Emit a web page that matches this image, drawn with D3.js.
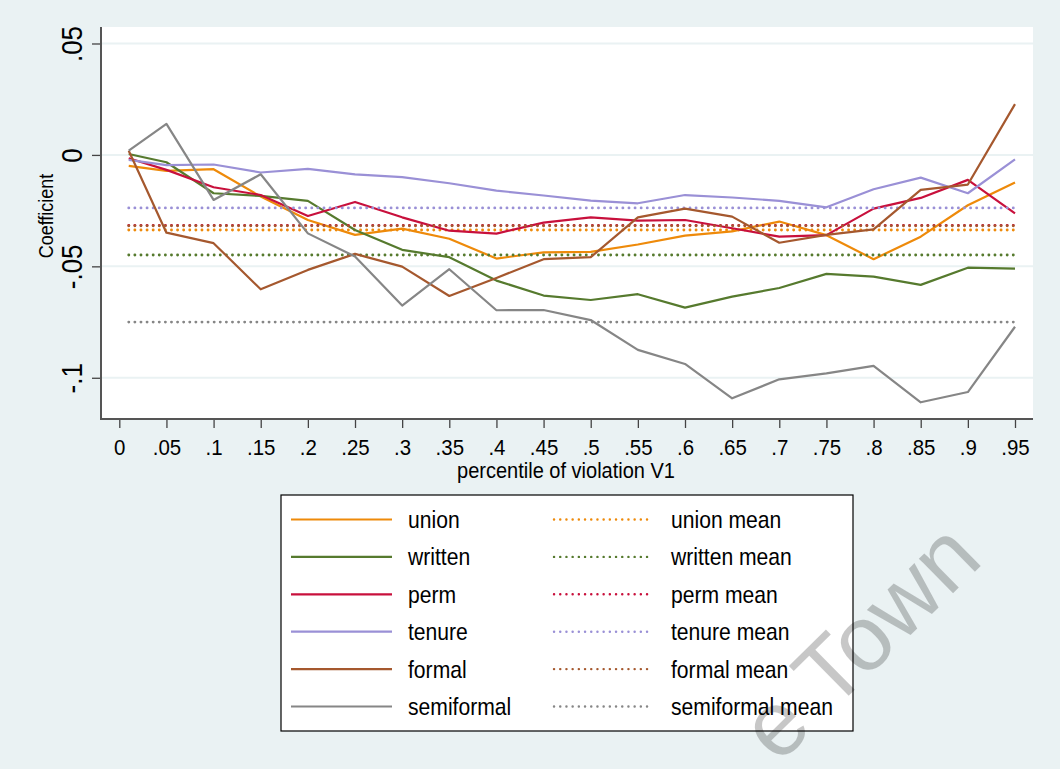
<!DOCTYPE html>
<html>
<head>
<meta charset="utf-8">
<script src="https://cdn.jsdelivr.net/npm/d3@7/dist/d3.min.js"></script>
<style>
  html, body { margin: 0; padding: 0; background: #eaf2f3; }
  svg { display: block; }
  text { font-family: "Liberation Sans", Arial, sans-serif; fill: #000; }
</style>
</head>
<body>
<svg id="chart" width="1060" height="769"></svg>
<script>
// ---------------- data ----------------
const percentiles = [0.01, 0.05, 0.10, 0.15, 0.20, 0.25, 0.30, 0.35, 0.40, 0.45,
                     0.50, 0.55, 0.60, 0.65, 0.70, 0.75, 0.80, 0.85, 0.90, 0.95];

const union      = [-0.0049, -0.0072, -0.0064, -0.0187, -0.0292, -0.0359, -0.0331, -0.0376, -0.0465, -0.0437,
                    -0.0435, -0.0402, -0.0362, -0.0343, -0.0299, -0.0360, -0.0468, -0.0367, -0.0226, -0.0124];
const written    = [0.0004, -0.0033, -0.0172, -0.0184, -0.0206, -0.0337, -0.0426, -0.0459, -0.0564, -0.0631,
                    -0.0651, -0.0625, -0.0685, -0.0636, -0.0597, -0.0534, -0.0546, -0.0583, -0.0506, -0.0510];
const perm       = [-0.0015, -0.0067, -0.0145, -0.0180, -0.0274, -0.0211, -0.0280, -0.0340, -0.0353, -0.0304,
                    -0.0280, -0.0295, -0.0292, -0.0329, -0.0367, -0.0360, -0.0241, -0.0193, -0.0112, -0.0262];
const tenure     = [-0.0022, -0.0046, -0.0043, -0.0079, -0.0063, -0.0087, -0.0100, -0.0127, -0.0160, -0.0182,
                    -0.0205, -0.0217, -0.0180, -0.0191, -0.0206, -0.0235, -0.0154, -0.0102, -0.0172, -0.0020];
const formal     = [0.0019, -0.0349, -0.0396, -0.0603, -0.0516, -0.0444, -0.0501, -0.0633, -0.0552, -0.0468,
                    -0.0459, -0.0280, -0.0241, -0.0277, -0.0394, -0.0359, -0.0334, -0.0157, -0.0133, 0.0228];
const semiformal = [0.0019, 0.0139, -0.0202, -0.0087, -0.0352, -0.0456, -0.0676, -0.0513, -0.0697, -0.0696,
                    -0.0741, -0.0875, -0.0938, -0.1092, -0.1007, -0.0980, -0.0947, -0.1110, -0.1064, -0.0771];

const seriesNames = ["union", "written", "perm", "tenure", "formal", "semiformal"];
const seriesMeans = [-0.0337, -0.0449, -0.0316, -0.0238, -0.0318, -0.0750];
const seriesColors = ["#ee8a0a", "#567a2e", "#c8103c", "#9a90d6", "#a5582e", "#868686"];

const xTicks = [0, 0.05, 0.10, 0.15, 0.20, 0.25, 0.30, 0.35, 0.40, 0.45,
                0.50, 0.55, 0.60, 0.65, 0.70, 0.75, 0.80, 0.85, 0.90, 0.95];
const xTickLabels = ["0", ".05", ".1", ".15", ".2", ".25", ".3", ".35", ".4", ".45",
                     ".5", ".55", ".6", ".65", ".7", ".75", ".8", ".85", ".9", ".95"];
const yTicks = [-0.1, -0.05, 0, 0.05];
const yTickLabels = ["-.1", "-.05", "0", ".05"];
const xTitle = "percentile of violation V1";
const yTitle = "Coefficient";
const watermark = "e Town";

// ---------------- layout ----------------
const svg = d3.select("#chart");
const W = 1060, H = 769;
const plot = { left: 101, right: 1033, top: 27, bottom: 419 };

svg.append("rect").attr("width", W).attr("height", H).attr("fill", "#eaf2f3");

const x = d3.scaleLinear().domain([0, 0.95]).range([119.3, 1015]);
const y = d3.scaleLinear().domain([-0.1185, 0.0574]).range([plot.bottom, plot.top]);

svg.append("rect")
  .attr("x", plot.left).attr("y", plot.top)
  .attr("width", plot.right - plot.left).attr("height", plot.bottom - plot.top)
  .attr("fill", "#fff");

// gridlines
svg.append("g").selectAll("line").data(yTicks).join("line")
  .attr("x1", plot.left).attr("x2", plot.right)
  .attr("y1", d => y(d)).attr("y2", d => y(d))
  .attr("stroke", "#eaf2f3").attr("stroke-width", 2);

// x axis
const xAxis = svg.append("g").attr("transform", `translate(0,${plot.bottom})`)
  .call(d3.axisBottom(x).tickValues(xTicks).tickSize(9)
        .tickFormat((d, i) => xTickLabels[i]));
xAxis.select(".domain").remove();
xAxis.selectAll(".tick line").attr("stroke", "#444").attr("stroke-width", 1.3);
xAxis.selectAll(".tick text")
  .attr("font-size", 22).attr("font-family", "Liberation Sans, Arial, sans-serif")
  .attr("fill", "#000").attr("y", 0).attr("dy", 0)
  .attr("transform", "translate(0,35.5) scale(0.93,1)");

// y axis
const yAxis = svg.append("g").attr("transform", `translate(${plot.left},0)`)
  .call(d3.axisLeft(y).tickValues(yTicks).tickSize(9)
        .tickFormat((d, i) => yTickLabels[i]));
yAxis.select(".domain").remove();
yAxis.selectAll(".tick line").attr("stroke", "#444").attr("stroke-width", 1.3);
yAxis.selectAll(".tick text")
  .attr("font-size", 26).attr("font-family", "Liberation Sans, Arial, sans-serif")
  .attr("fill", "#000").attr("x", 0).attr("dy", 0).attr("text-anchor", "middle")
  .attr("transform", "translate(-19,0) rotate(-90) scale(1,1.1)");

// axis lines
svg.append("line").attr("x1", plot.left).attr("x2", plot.left)
  .attr("y1", plot.top).attr("y2", plot.bottom + 1)
  .attr("stroke", "#555").attr("stroke-width", 2);
svg.append("line").attr("x1", plot.left - 1).attr("x2", plot.right)
  .attr("y1", plot.bottom).attr("y2", plot.bottom)
  .attr("stroke", "#555").attr("stroke-width", 2);

// titles
svg.append("text").attr("transform", `translate(566,478) scale(0.91,1)`)
  .attr("text-anchor", "middle").attr("font-size", 22).text(xTitle);
svg.append("text").attr("transform", `translate(53,216) rotate(-90) scale(1,1.08)`)
  .attr("text-anchor", "middle").attr("font-size", 18).text(yTitle);

// ---------------- series ----------------
const allSeries = [union, written, perm, tenure, formal, semiformal];
const line = d3.line().x((d, i) => x(percentiles[i])).y(d => y(d));
const g = svg.append("g");
allSeries.forEach((vals, k) => {
  g.append("path").datum(vals)
    .attr("d", line).attr("fill", "none")
    .attr("stroke", seriesColors[k]).attr("stroke-width", 2.2)
    .attr("stroke-linejoin", "round");
  g.append("line")
    .attr("x1", x(percentiles[0])).attr("x2", x(percentiles[percentiles.length - 1]))
    .attr("y1", y(seriesMeans[k])).attr("y2", y(seriesMeans[k]))
    .attr("stroke", seriesColors[k]).attr("stroke-width", 2.8)
    .attr("stroke-linecap", "round").attr("stroke-dasharray", "0.1 6");
});

// ---------------- legend ----------------
const lg = svg.append("g");
lg.append("rect").attr("x", 281).attr("y", 495).attr("width", 572).attr("height", 236)
  .attr("fill", "#fff").attr("stroke", "#000").attr("stroke-width", 1.2);
const rowY = d3.scalePoint().domain(seriesNames).range([519.5, 706.5]);
seriesNames.forEach((name, k) => {
  const ry = rowY(name);
  lg.append("line").attr("x1", 291).attr("x2", 392).attr("y1", ry).attr("y2", ry)
    .attr("stroke", seriesColors[k]).attr("stroke-width", 2.2);
  lg.append("text").attr("transform", `translate(408,${ry + 8.5}) scale(0.88,1)`)
    .attr("font-size", 24).text(name);
  lg.append("line").attr("x1", 554).attr("x2", 653).attr("y1", ry).attr("y2", ry)
    .attr("stroke", seriesColors[k]).attr("stroke-width", 2.4)
    .attr("stroke-linecap", "round").attr("stroke-dasharray", "0.1 6.1");
  lg.append("text").attr("transform", `translate(671,${ry + 8.5}) scale(0.88,1)`)
    .attr("font-size", 24).text(name + " mean");
});

// ---------------- watermark ----------------
svg.append("text")
  .attr("transform", "translate(985,562) rotate(-44.5)")
  .attr("text-anchor", "end").attr("font-size", 92)
  .attr("fill", "#a0a8aa").attr("fill-opacity", 0.22)
  .text(watermark);
</script>
</body>
</html>
